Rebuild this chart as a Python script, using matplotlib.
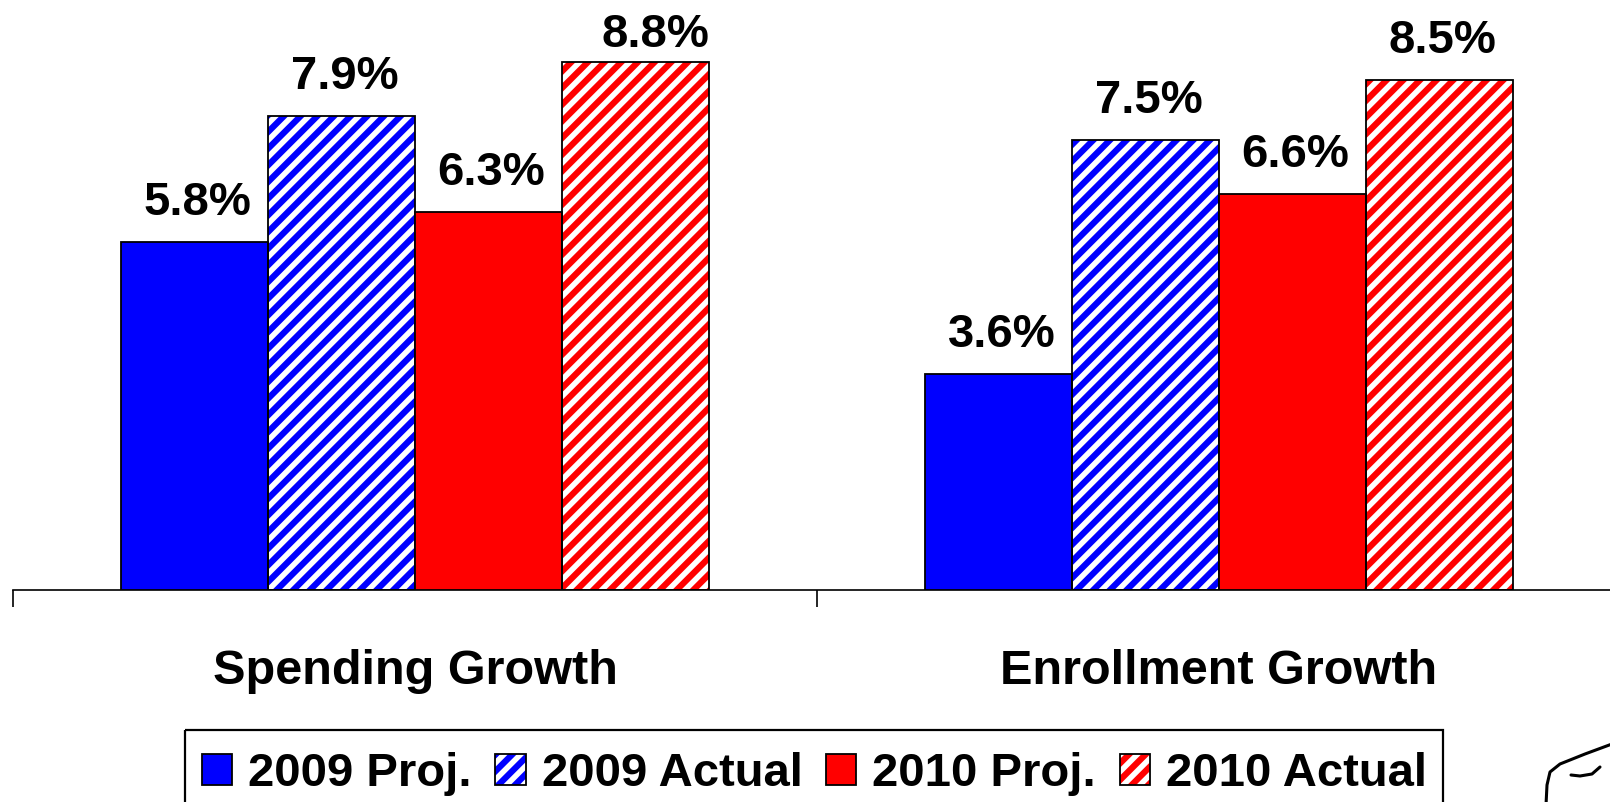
import matplotlib
matplotlib.use("Agg")
import matplotlib.pyplot as plt
from matplotlib.patches import Patch, Rectangle
from matplotlib.legend_handler import HandlerTuple
from matplotlib.lines import Line2D
from matplotlib.transforms import Affine2D
import numpy as np

plt.rcParams['font.family'] = ['Liberation Sans', 'DejaVu Sans']
plt.rcParams['font.weight'] = 'bold'
plt.rcParams['hatch.linewidth'] = 4.5

categories = ["Spending Growth", "Enrollment Growth"]
series_names = ["2009 Proj.", "2009 Actual", "2010 Proj.", "2010 Actual"]
proj_2009 = [5.8, 3.6]
actual_2009 = [7.9, 7.5]
proj_2010 = [6.3, 6.6]
actual_2010 = [8.8, 8.5]
series_values = [proj_2009, actual_2009, proj_2010, actual_2010]
series_colors = ["#0000FF", "#0000FF", "#FF0000", "#FF0000"]
series_hatched = [False, True, False, True]

W, H = 1610, 802
fig = plt.figure(figsize=(W / 100, H / 100), dpi=100)
ax_left = 13 / W
ax_bottom = (H - 590) / H
ax_width = 1608 / W
ymax = 9.8
ax_height = ymax * 60 / H
ax = fig.add_axes([ax_left, ax_bottom, ax_width, ax_height])
ax.set_xlim(-0.5, 1.5)
ax.set_ylim(0, ymax)

x = np.arange(len(categories))
bw = 0.1826
offsets = [-1.5, -0.5, 0.5, 1.5]
# label offsets in points (dx, dy above bar top to baseline)
label_shift = {(3, 0): (14.4, 10.8)}

for si, (vals, col, hat) in enumerate(zip(series_values, series_colors, series_hatched)):
    xs = x + offsets[si] * bw
    if hat:
        ax.bar(xs, vals, bw, facecolor="white", edgecolor=col, hatch="//", linewidth=0, zorder=2)
        ax.bar(xs, vals, bw, fill=False, edgecolor="black", linewidth=1.3, zorder=3)
    else:
        ax.bar(xs, vals, bw, facecolor=col, edgecolor="black", linewidth=1.3, zorder=3)
    for ci, (xx, v) in enumerate(zip(xs, vals)):
        dx, dy = label_shift.get((si, ci), (2.2, 19.4))
        ax.annotate(f"{v:.1f}%", (xx, v), xytext=(dx, dy), textcoords="offset points",
                    ha="center", va="baseline", fontsize=34, fontweight="bold",
                    annotation_clip=False)

for s in ["left", "right", "top"]:
    ax.spines[s].set_visible(False)
ax.spines["bottom"].set_linewidth(1.2)
ax.set_yticks([])
ax.set_xticks(x)
ax.set_xticklabels(categories, fontsize=35, fontweight="bold")
ax.tick_params(axis="x", which="major", length=0, pad=42.5)
ax.set_xticks([-0.5, 0.5, 1.5], minor=True)
ax.tick_params(axis="x", which="minor", length=12.2, width=1.2, direction="out")

handles = []
for col, hat in zip(series_colors, series_hatched):
    if hat:
        h = (Patch(facecolor="white", edgecolor=col, hatch="//", linewidth=0),
             Patch(fill=False, edgecolor="black", linewidth=1.3))
    else:
        h = Patch(facecolor=col, edgecolor="black", linewidth=1.3)
    handles.append(h)

leg = fig.legend(handles, series_names, loc="upper left",
                 bbox_to_anchor=(185 / W, 1 - 735 / H), bbox_transform=fig.transFigure,
                 ncol=4, prop={"weight": "bold", "size": 34},
                 handlelength=0.64, handleheight=0.64, handletextpad=0.34,
                 columnspacing=0.5, borderpad=0.36, borderaxespad=0,
                 frameon=False,
                 handler_map={tuple: HandlerTuple(ndivide=1, pad=0)})

# legend frame (pixel coordinates, origin top-left)
tr = Affine2D().scale(1, -1).translate(0, H)
fig.add_artist(Rectangle((185, 730), 1443 - 185, 90, transform=tr, fill=False,
                         edgecolor="black", linewidth=1.6))

# logo fragment at bottom right
logo1_x = [1612, 1585, 1560, 1550, 1547, 1546]
logo1_y = [744, 754, 764, 772, 785, 805]
logo2_x = [1571, 1580, 1592, 1600]
logo2_y = [775, 776, 774, 767]
for lx, ly in [(logo1_x, logo1_y), (logo2_x, logo2_y)]:
    fig.add_artist(Line2D(lx, ly, transform=tr, color="black", linewidth=2.2,
                          solid_capstyle="round"))

fig.savefig("out.png", dpi=100)
